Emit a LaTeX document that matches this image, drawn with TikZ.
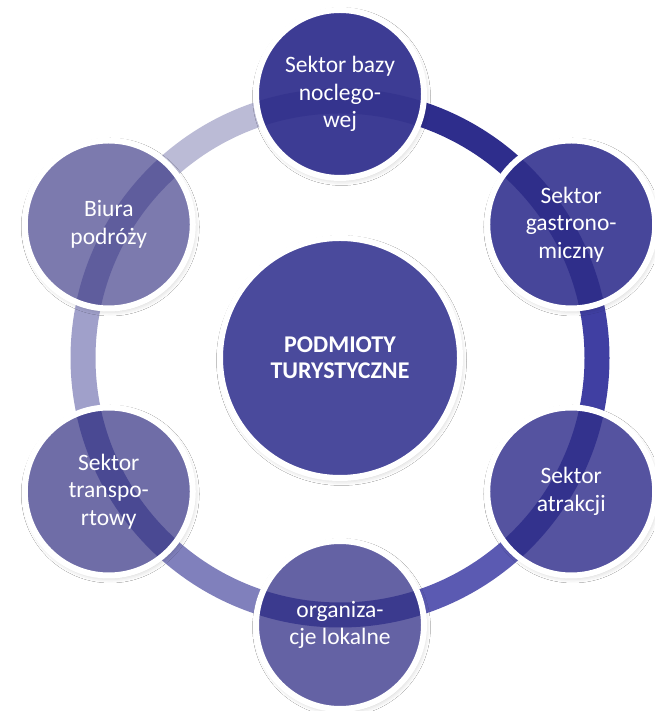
\documentclass[tikz,border=0pt]{standalone}
\usepackage{fontspec}
\setmainfont{Carlito}
\usetikzlibrary{shadows.blur}
\definecolor{ringA}{HTML}{2E2D8C}
\definecolor{ringB}{HTML}{403FA2}
\definecolor{ringC}{HTML}{5B5AB2}
\definecolor{ringD}{HTML}{8080BC}
\definecolor{ringE}{HTML}{A0A0CA}
\definecolor{ringF}{HTML}{BBBBD6}
\definecolor{fTop}{HTML}{3D3C94}
\definecolor{bTop}{HTML}{35348E}
\definecolor{fGas}{HTML}{47469A}
\definecolor{bGas}{HTML}{2F2E8A}
\definecolor{fAtr}{HTML}{5553A0}
\definecolor{bAtr}{HTML}{33328D}
\definecolor{fOrg}{HTML}{6462A4}
\definecolor{bOrg}{HTML}{3B3A8E}
\definecolor{fTra}{HTML}{6F6DA7}
\definecolor{bTra}{HTML}{4A4993}
\definecolor{fBiu}{HTML}{7C7AAE}
\definecolor{bBiu}{HTML}{5F5D9D}
\definecolor{fCen}{HTML}{4A4A9C}
\begin{document}
\begin{tikzpicture}[x=1pt,y=1pt,
  ringseg/.style={line width=25pt},
  satnode/.style 2 args={circle, minimum size=168pt, inner sep=0pt, fill=#1,
    draw=white, line width=6pt, text=white, align=center,
    font=\fontsize{23.5}{27.5}\selectfont,
    blur shadow={shadow xshift=1.5pt, shadow yshift=-2.5pt, shadow blur radius=5pt, shadow opacity=22},
    path picture={\draw[line width=25pt, #2] (O) circle[radius=257];}},
  hubnode/.style={circle, minimum size=240pt, inner sep=0pt, fill=fCen,
    draw=white, line width=6pt, text=white, align=center,
    font=\bfseries\fontsize{24}{26}\selectfont,
    blur shadow={shadow xshift=1.5pt, shadow yshift=-2.5pt, shadow blur radius=5pt, shadow opacity=22}}
]
\useasboundingbox (0,0) rectangle (654,711);
\fill[white] (0,0) rectangle (654,711);
\coordinate (O) at (340,353);
% ring segments
\draw[ringseg, ringA] ([shift={(90:257)}]O) arc[start angle=90, end angle=30, radius=257];
\draw[ringseg, ringB] ([shift={(30:257)}]O) arc[start angle=30, end angle=-30, radius=257];
\draw[ringseg, ringC] ([shift={(-30:257)}]O) arc[start angle=-30, end angle=-90, radius=257];
\draw[ringseg, ringD] ([shift={(-90:257)}]O) arc[start angle=-90, end angle=-150, radius=257];
\draw[ringseg, ringE] ([shift={(210:257)}]O) arc[start angle=210, end angle=150, radius=257];
\draw[ringseg, ringF] ([shift={(150:257)}]O) arc[start angle=150, end angle=90, radius=257];
% nodes
\node[hubnode] (hub) at (O) {PODMIOTY\\TURYSTYCZNE};
\node[satnode={fTop}{bTop}] (noc) at ([shift={(90:264)}]O) {Sektor bazy\\noclego-\\wej};
\node[satnode={fGas}{bGas}] (gas) at ([shift={(30:267)}]O) {Sektor\\gastrono-\\miczny};
\node[satnode={fAtr}{bAtr}] (atr) at ([shift={(-30:267)}]O) {Sektor\\atrakcji};
\node[satnode={fOrg}{bOrg}] (org) at ([shift={(-90:267)}]O) {organiza-\\cje lokalne};
\node[satnode={fTra}{bTra}] (tra) at ([shift={(210:267)}]O) {Sektor\\transpo-\\rtowy};
\node[satnode={fBiu}{bBiu}] (biu) at ([shift={(150:267)}]O) {Biura\\podróży};
\end{tikzpicture}
\end{document}
